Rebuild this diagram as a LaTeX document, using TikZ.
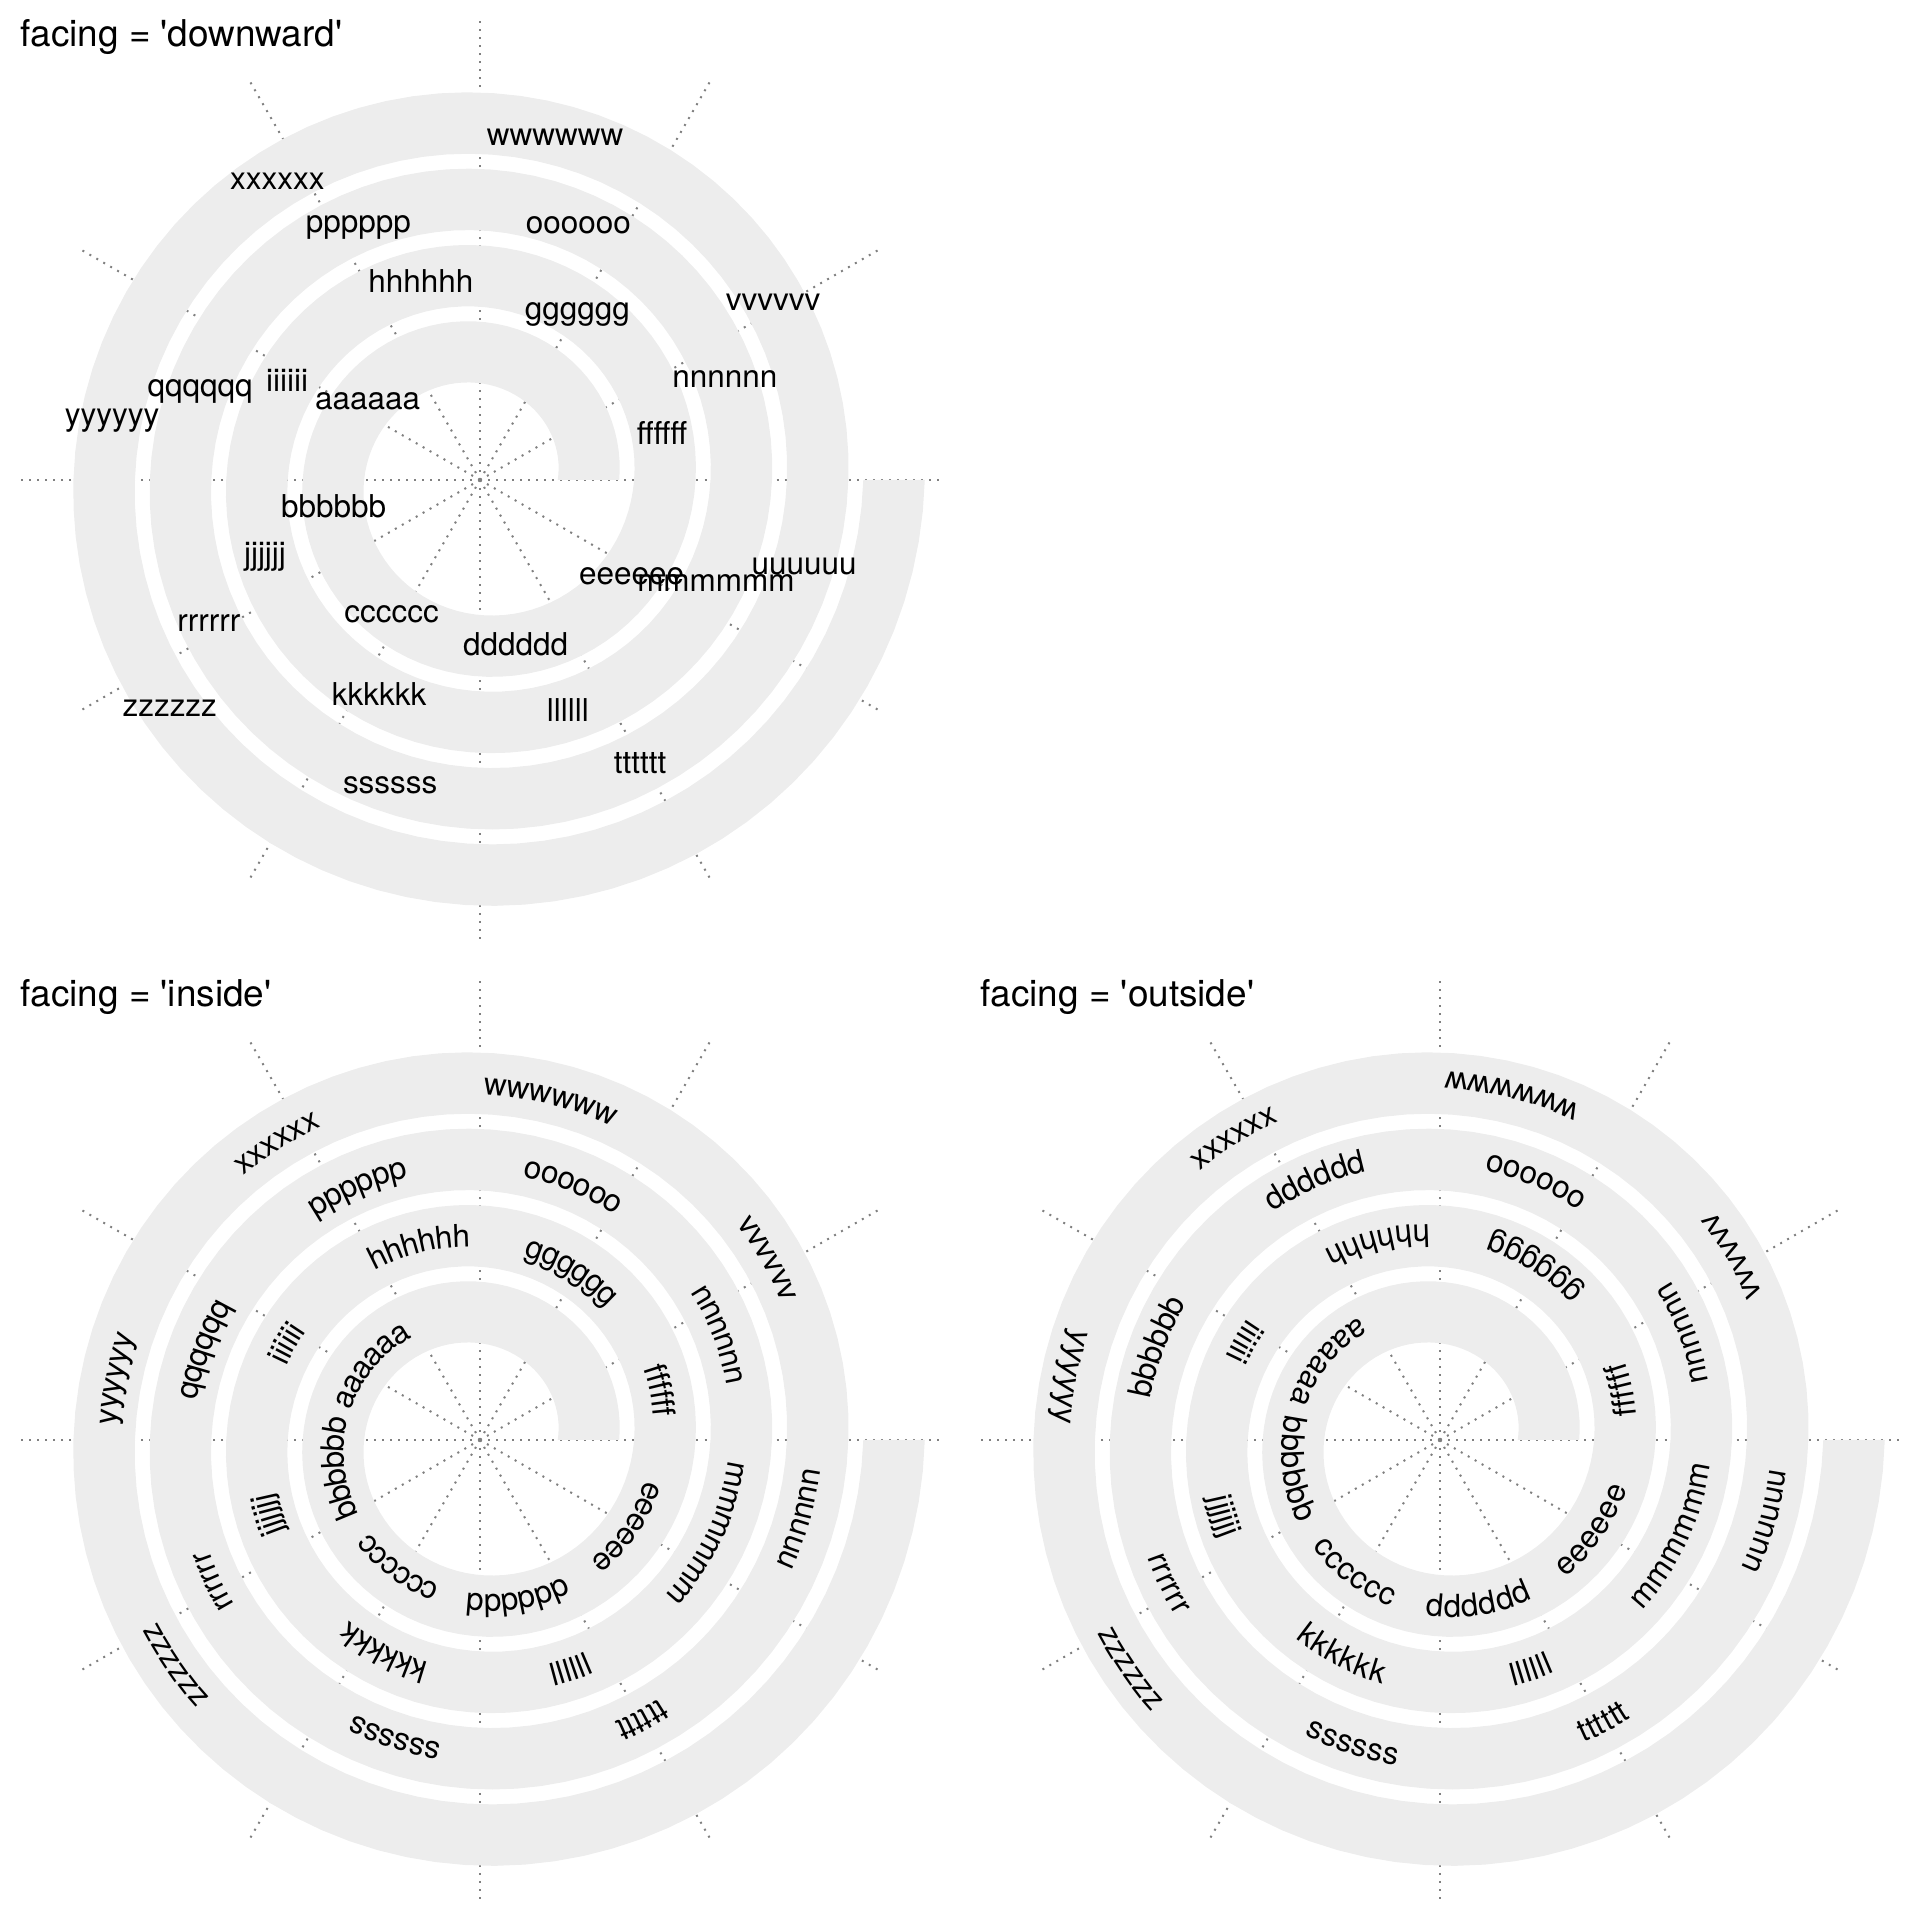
\documentclass[tikz,border=0pt]{standalone}
\usepackage{fontspec}
\usetikzlibrary{decorations.text}
\newfontfamily\helv{TeX Gyre Heros}
\newcommand{\lblfont}{\helv\fontsize{8.95pt}{10pt}\selectfont}
\newcommand{\ttlfont}{\helv\fontsize{10.5pt}{12pt}\selectfont}
\definecolor{bandgray}{HTML}{EDEDED}
\tikzset{
gridline/.style={draw=gray, line width=0.57pt, dash pattern=on 0.57pt off 1.71pt},
spiral/.style={fill=bandgray},
lbl/.style={font=\lblfont, inner sep=0pt, anchor=base, yshift=-0.113cm},
pathlbl/.style={decorate, decoration={text along path, text/.expanded={|\noexpand\lblfont|#1},
    text align=center, raise=-0.113cm}},
ttl/.style={font=\ttlfont, inner sep=0pt, anchor=base west},
}

\begin{document}
\begin{tikzpicture}[x=0.01cm, y=0.01cm]
    \useasboundingbox (0,0) rectangle (1920,1920);

    %grid and spiral band
    \foreach \cx/\cy in {480/1440, 480/480, 1440/480}{
      \begin{scope}[shift={(\cx,\cy)}]
        \coordinate (o) at (0,0);
        \foreach \a in {0,30,...,330}
          \draw[gridline] (o) -- (\a:459);
        \fill[spiral] plot[domain=0:1440, samples=361] (\x:{77.7+0.212222*\x})
          -- plot[domain=0:1440, samples=361] ({1440-\x}:{139.2+0.212222*(1440-\x)}) -- cycle;
      \end{scope}
    }

    %titles
    \node[ttl] (t1) at (20,1873.3) {facing = \textquotesingle downward\textquotesingle};
    \node[ttl] (t2) at (20,913.3) {facing = \textquotesingle inside\textquotesingle};
    \node[ttl] (t3) at (980,913.3) {facing = \textquotesingle outside\textquotesingle};

    %lables downward
    \begin{scope}[shift={(480,1440)}]
      \foreach \l [count=\i] in {a,b,c,d,e,f,g,h,i,j,k,l,m,n,o,p,q,r,s,t,u,v,w,x,y,z}{
        \pgfmathsetmacro\ang{97.92+46.08*\i}
        \pgfmathsetmacro\rad{108.45+0.212222*\ang}
        \node[lbl] (d\l) at (\ang:\rad) {\l\l\l\l\l\l};
      }
    \end{scope}

    %lables inside
    \begin{scope}[shift={(480,480)}]
      \foreach \l [count=\i] in {a,b,c,d,e,f,g,h,i,j,k,l,m,n,o,p,q,r,s,t,u,v,w,x,y,z}{
        \pgfmathsetmacro\ang{97.92+46.08*\i}
        \edef\txt{\l\l\l\l\l\l}
        \path[pathlbl=\txt]
          plot[domain=-40:40, samples=41] ({\ang-\x}:{108.45+0.212222*(\ang-\x)});
      }
    \end{scope}

    %lables outside
    \begin{scope}[shift={(1440,480)}]
      \foreach \l [count=\i] in {a,b,c,d,e,f,g,h,i,j,k,l,m,n,o,p,q,r,s,t,u,v,w,x,y,z}{
        \pgfmathsetmacro\ang{97.92+46.08*\i}
        \edef\txt{\l\l\l\l\l\l}
        \path[pathlbl=\txt]
          plot[domain=-40:40, samples=41] ({\ang+\x}:{108.45+0.212222*(\ang+\x)});
      }
    \end{scope}
\end{tikzpicture}
\end{document}
